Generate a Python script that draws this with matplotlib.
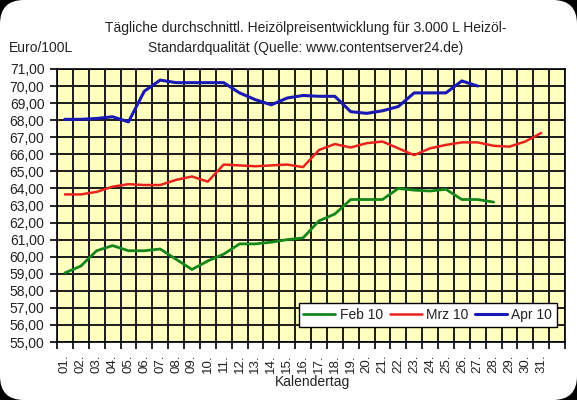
import matplotlib
matplotlib.use("Agg")
import matplotlib.pyplot as plt
from matplotlib.patches import FancyBboxPatch
from matplotlib.ticker import FixedLocator, FuncFormatter

plt.rcParams['font.family'] = ['Liberation Sans', 'DejaVu Sans']

days = [f"{d:02d}." for d in range(1, 32)] + [""]
feb = [59.05, 59.45, 60.35, 60.65, 60.35, 60.35, 60.45, 59.85, 59.25, 59.75,
       60.15, 60.75, 60.75, 60.85, 61.0, 61.1, 62.1, 62.5, 63.35, 63.35,
       63.35, 64.0, 63.9, 63.85, 63.95, 63.35, 63.35, 63.2]
mrz = [63.65, 63.65, 63.8, 64.1, 64.25, 64.2, 64.2, 64.5, 64.7, 64.4,
       65.4, 65.35, 65.3, 65.35, 65.4, 65.25, 66.25, 66.6, 66.4, 66.65,
       66.75, 66.35, 65.95, 66.35, 66.55, 66.7, 66.7, 66.5, 66.45, 66.75, 67.25]
apr = [68.05, 68.05, 68.1, 68.2, 67.9, 69.7, 70.35, 70.2, 70.2, 70.2,
       70.2, 69.6, 69.2, 68.9, 69.3, 69.45, 69.4, 69.4, 68.5, 68.4,
       68.55, 68.8, 69.6, 69.6, 69.6, 70.3, 70.0]
series_names = ["Feb 10", "Mrz 10", "Apr 10"]
y_ticks = list(range(55, 72))

W, H = 577, 400
fig = plt.figure(figsize=(W / 100, H / 100), dpi=100)
fig.patch.set_facecolor("black")
bg = FancyBboxPatch((0, 0), W / 100, H / 100,
                    boxstyle="round,pad=0,rounding_size=0.24",
                    transform=fig.dpi_scale_trans, facecolor="white",
                    edgecolor="none", zorder=-10)
fig.add_artist(bg)

ax = fig.add_axes([57 / W, (H - 342) / H, 508 / W, 273 / H])
ax.set_facecolor("#FFFFC0")

x_pos = list(range(len(days)))
ax.plot(x_pos[:len(feb)], feb, color="#15861A", lw=2.0, label=series_names[0],
        solid_capstyle="round", solid_joinstyle="round", zorder=3)
ax.plot(x_pos[:len(mrz)], mrz, color="#E8231E", lw=1.8, label=series_names[1],
        solid_capstyle="round", solid_joinstyle="round", zorder=3)
ax.plot(x_pos[:len(apr)], apr, color="#1818B4", lw=2.2, label=series_names[2],
        solid_capstyle="round", solid_joinstyle="round", zorder=3)

ax.set_xlim(-0.5, len(days) - 0.5)
ax.set_ylim(55, 71)

# x axis: labels at category centers, ticks/grid at boundaries
ax.xaxis.set_major_locator(FixedLocator(x_pos))
ax.set_xticklabels(days, rotation=90, fontsize=9.5, color="#222222")
ax.xaxis.set_minor_locator(FixedLocator([i - 0.5 for i in range(len(days) + 1)]))
ax.tick_params(axis="x", which="major", length=0, pad=9)
ax.tick_params(axis="x", which="minor", length=5, width=1.2, color="black", direction="out")
ax.grid(True, which="minor", axis="x", color="#1a1a1a", lw=1.4, zorder=1)

ax.yaxis.set_major_locator(FixedLocator(y_ticks))
ax.yaxis.set_major_formatter(FuncFormatter(lambda v, p: f"{v:.2f}".replace(".", ",")))
ax.tick_params(axis="y", which="major", length=5, width=1.2, color="black",
               direction="out", labelsize=10, labelcolor="#222222", pad=4)
ax.grid(True, which="major", axis="y", color="#1a1a1a", lw=1.4, zorder=1)
ax.set_axisbelow(True)

for s in ax.spines.values():
    s.set_color("black")
    s.set_linewidth(1.2)

leg = ax.legend(loc="lower right", bbox_to_anchor=(0.984, 0.055), ncol=3,
                fontsize=10, frameon=True, fancybox=False, framealpha=1,
                edgecolor="black", handlelength=2.3, handletextpad=0.3,
                columnspacing=0.5, borderpad=0.35, borderaxespad=0)
leg.get_frame().set_linewidth(1.0)
for t in leg.get_texts():
    t.set_color("#222222")

fig.text(306 / W, 1 - 28 / H,
         "Tägliche durchschnittl. Heizölpreisentwicklung für 3.000 L Heizöl-",
         ha="center", va="center", fontsize=10, color="#222222")
fig.text(306 / W, 1 - 48 / H,
         "Standardqualität (Quelle: www.contentserver24.de)",
         ha="center", va="center", fontsize=10, color="#222222")
fig.text(9 / W, 1 - 48 / H, "Euro/100L", ha="left", va="center",
         fontsize=10, color="#222222")
fig.text(313 / W, 1 - 382 / H, "Kalendertag", ha="center", va="center",
         fontsize=10, color="#222222")

fig.savefig("out.png", dpi=100)
